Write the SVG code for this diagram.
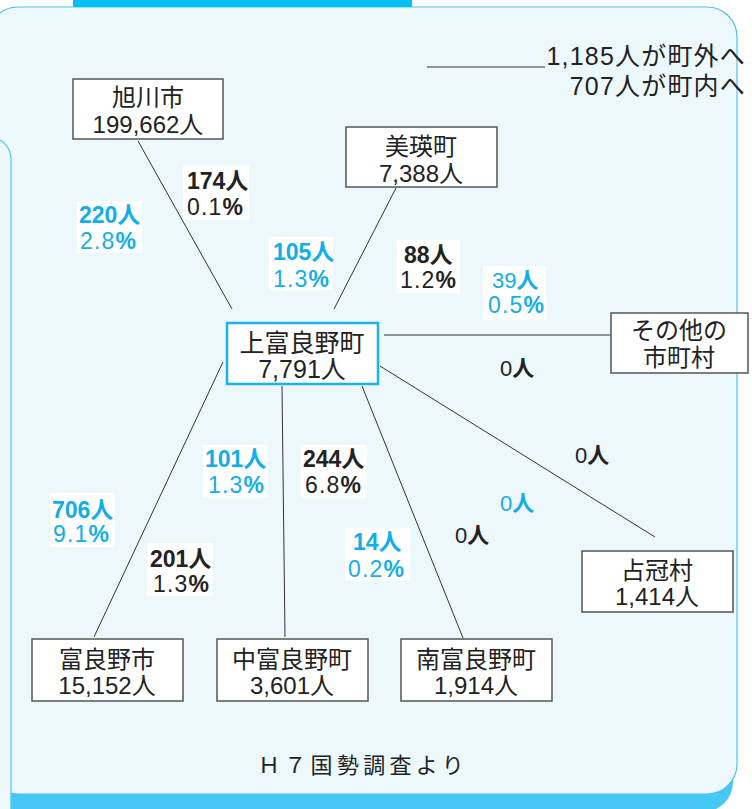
<svg xmlns="http://www.w3.org/2000/svg" width="752" height="809" viewBox="0 0 752 809">
<style>
text{font-family:"Liberation Sans","Noto Sans CJK JP",sans-serif;}
.box{fill:#fff;stroke:#555;stroke-width:1.5}
.bt{font-size:24px;fill:#222;text-anchor:middle}
.n{font-size:23px;font-weight:bold}
.p{font-size:23px;letter-spacing:1.2px}
.pb{font-weight:bold}
.k{fill:#222}
.b{fill:#12aee8}
.lb{fill:#fff}
.c line{stroke:#333;stroke-width:1}
.z{font-size:22px}
.t{font-size:25px;letter-spacing:1.2px}
</style>
<rect x="0" y="0" width="752" height="809" fill="#fff"/>
<g id="background">
  <rect x="-20" y="20" width="753" height="792" rx="30" fill="#45c8f5"/>
  <rect x="-12" y="7" width="749" height="787" rx="30" fill="#edf8fd" stroke="#4cc3f0" stroke-width="1.2"/>
  <path d="M -30 137 H -11 A 22 22 0 0 1 11 159 V 809 H -30 Z" fill="#edf8fd"/>
  <path d="M -30 137 H -11 A 22 22 0 0 1 11 159 V 809" fill="none" stroke="#4cc3f0" stroke-width="1.2"/>
  <rect x="73" y="0" width="339" height="7" fill="#00bff3"/>
</g>
<g id="summary">
  <line x1="427" y1="67" x2="545" y2="67" stroke="#333" stroke-width="1"/>
  <text x="746" y="65" class="t k" text-anchor="end">1,185人が町外へ</text>
  <text x="746" y="95" class="t k" text-anchor="end">707人が町内へ</text>
</g>
<g id="connectors" class="c">
  <line x1="138" y1="141" x2="232" y2="309"/>
  <line x1="396" y1="188" x2="334" y2="309"/>
  <line x1="384" y1="335" x2="611" y2="335"/>
  <line x1="380" y1="366" x2="655" y2="537"/>
  <line x1="362" y1="386" x2="463" y2="638"/>
  <line x1="282" y1="386" x2="285" y2="637"/>
  <line x1="223" y1="362" x2="94" y2="637"/>
</g>
<g id="labels">
  <rect class="lb" x="183" y="166" width="66" height="54"/>
  <text x="187" y="189" class="n k">174人</text>
  <text x="187" y="215" class="p k">0.1<tspan class="pb">%</tspan></text>

  <rect class="lb" x="77" y="201" width="65" height="52"/>
  <text x="79" y="223" class="n b">220人</text>
  <text x="80" y="249" class="p b">2.8<tspan class="pb">%</tspan></text>

  <rect class="lb" x="269" y="237" width="64" height="53"/>
  <text x="273" y="260" class="n b">105人</text>
  <text x="273" y="287" class="p b">1.3<tspan class="pb">%</tspan></text>

  <rect class="lb" x="397" y="240" width="63" height="53"/>
  <text x="404" y="263" class="n k">88人</text>
  <text x="400" y="288" class="p k">1.2<tspan class="pb">%</tspan></text>

  <rect class="lb" x="483" y="266" width="63" height="54"/>
  <text x="492" y="288" class="z b">39<tspan class="pb">人</tspan></text>
  <text x="488" y="313" class="p b">0.5<tspan class="pb">%</tspan></text>

  <text x="500" y="376" class="z k">0<tspan class="pb">人</tspan></text>
  <text x="575" y="463" class="z k">0<tspan class="pb">人</tspan></text>
  <text x="500" y="511" class="z b">0<tspan class="pb">人</tspan></text>
  <text x="455" y="543" class="z k">0<tspan class="pb">人</tspan></text>

  <rect class="lb" x="203" y="445" width="65" height="53"/>
  <text x="205" y="467" class="n b">101人</text>
  <text x="208" y="493" class="p b">1.3<tspan class="pb">%</tspan></text>

  <rect class="lb" x="301" y="445" width="66" height="53"/>
  <text x="303" y="467" class="n k">244人</text>
  <text x="305" y="493" class="p k">6.8<tspan class="pb">%</tspan></text>

  <rect class="lb" x="50" y="493" width="65" height="54"/>
  <text x="52" y="518" class="n b">706人</text>
  <text x="53" y="542" class="p b">9.1<tspan class="pb">%</tspan></text>

  <rect class="lb" x="147" y="543" width="66" height="53"/>
  <text x="150" y="567" class="n k">201人</text>
  <text x="153" y="592" class="p k">1.3<tspan class="pb">%</tspan></text>

  <rect class="lb" x="345" y="528" width="65" height="53"/>
  <text x="353" y="550" class="n b">14人</text>
  <text x="348" y="577" class="p b">0.2<tspan class="pb">%</tspan></text>
</g>
<g id="asahikawa">
  <rect class="box" x="73" y="79" width="150" height="60"/>
  <text class="bt" x="148" y="106">旭川市</text>
  <text class="bt" x="148" y="133">199,662人</text>
</g>
<g id="biei">
  <rect class="box" x="346" y="127" width="151" height="60"/>
  <text class="bt" x="421" y="155">美瑛町</text>
  <text class="bt" x="421" y="182">7,388人</text>
</g>
<g id="kamifurano">
  <rect x="227" y="323" width="151" height="61" fill="#fff" stroke="#1ab2ea" stroke-width="2.5"/>
  <text class="bt" x="302" y="352" style="font-size:25px">上富良野町</text>
  <text class="bt" x="302" y="378" style="font-size:25px">7,791人</text>
</g>
<g id="others">
  <rect class="box" x="611" y="313" width="137" height="60"/>
  <text class="bt" x="679" y="339">その他の</text>
  <text class="bt" x="679" y="366">市町村</text>
</g>
<g id="shimukappu">
  <rect class="box" x="582" y="551" width="151" height="61"/>
  <text class="bt" x="657" y="579">占冠村</text>
  <text class="bt" x="657" y="605">1,414人</text>
</g>
<g id="furano">
  <rect class="box" x="32" y="639" width="151" height="62"/>
  <text class="bt" x="107" y="668">富良野市</text>
  <text class="bt" x="107" y="694">15,152人</text>
</g>
<g id="nakafurano">
  <rect class="box" x="217" y="639" width="151" height="62"/>
  <text class="bt" x="292" y="668">中富良野町</text>
  <text class="bt" x="292" y="694">3,601人</text>
</g>
<g id="minamifurano">
  <rect class="box" x="401" y="639" width="151" height="62"/>
  <text class="bt" x="476" y="668">南富良野町</text>
  <text class="bt" x="476" y="694">1,914人</text>
</g>
<g id="source">
  <text x="258" y="773" style="font-size:22px;letter-spacing:4.3px" class="k">Ｈ７国勢調査より</text>
</g>
</svg>
